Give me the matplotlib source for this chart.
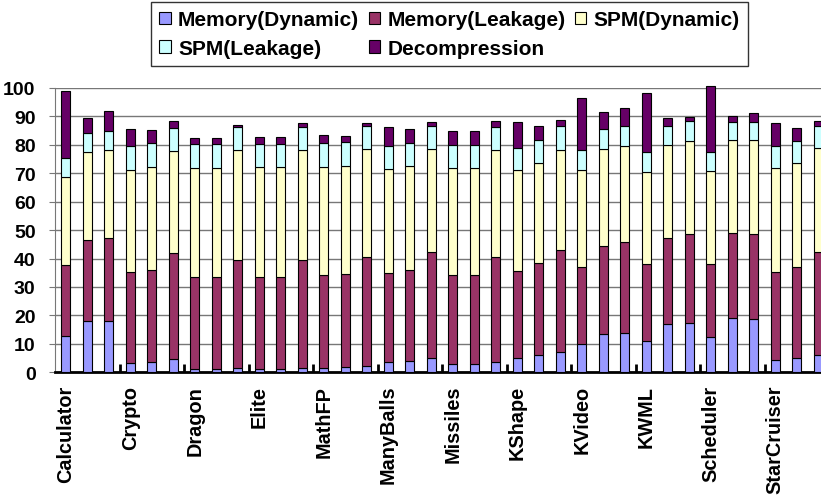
import numpy as np
import matplotlib.pyplot as plt

plt.rcParams['font.family'] = ['Liberation Sans', 'DejaVu Sans']
plt.rcParams['font.weight'] = 'bold'

# three configurations per benchmark, energy breakdown in percent
benchmarks = ['Calculator', 'Crypto', 'Dragon', 'Elite', 'MathFP', 'ManyBalls',
              'Missiles', 'KShape', 'KVideo', 'KWML', 'Scheduler', 'StarCruiser']

mem_dynamic = [12.9, 17.9, 17.9, 3.4, 3.6, 4.6, 1.2, 1.2, 1.6, 1.3, 1.3, 1.5,
               1.5, 1.8, 2.3, 3.5, 3.9, 5.2, 2.9, 2.9, 3.7, 5.0, 6.0, 7.1,
               9.8, 13.4, 13.7, 11.1, 16.9, 17.2, 12.5, 19.2, 18.9, 4.3, 5.2, 6.2]
mem_leakage = [24.8, 28.5, 29.3, 31.7, 32.5, 37.2, 32.2, 32.2, 37.7, 32.2, 32.2, 38.0,
               32.6, 32.8, 38.1, 31.5, 32.1, 37.0, 31.2, 31.2, 36.7, 30.6, 32.4, 35.9,
               27.3, 31.0, 32.0, 27.0, 30.3, 31.5, 25.5, 29.6, 29.8, 30.8, 31.7, 36.1]
spm_dynamic = [31.1, 31.2, 31.1, 36.1, 36.2, 36.0, 38.5, 38.5, 38.7, 38.6, 38.6, 38.5,
               38.1, 38.0, 38.0, 36.5, 36.4, 36.3, 37.7, 37.7, 37.7, 35.4, 35.1, 35.3,
               34.0, 34.0, 34.0, 32.4, 32.6, 32.6, 32.8, 32.7, 32.8, 36.6, 36.6, 36.6]
spm_leakage = [6.4, 6.4, 6.4, 8.2, 8.2, 8.2, 8.4, 8.4, 8.2, 8.3, 8.3, 8.2,
               8.3, 8.4, 8.3, 8.2, 8.1, 8.2, 8.0, 8.0, 8.0, 7.9, 8.0, 8.1,
               6.9, 7.0, 6.9, 7.1, 6.9, 6.9, 6.5, 6.6, 6.5, 8.0, 7.9, 7.8]
decompression = [23.5, 5.3, 7.0, 6.1, 4.7, 2.3, 2.0, 2.0, 0.9, 2.2, 2.2, 1.4,
                 2.9, 2.2, 0.9, 6.4, 5.0, 1.4, 5.0, 5.0, 2.1, 9.1, 5.2, 2.3,
                 18.3, 6.0, 6.2, 20.7, 2.6, 1.7, 23.2, 2.1, 3.0, 7.8, 4.6, 1.8]

series = [
    ('Memory(Dynamic)', mem_dynamic, '#9999FF'),
    ('Memory(Leakage)', mem_leakage, '#993366'),
    ('SPM(Dynamic)', spm_dynamic, '#FFFFCC'),
    ('SPM(Leakage)', spm_leakage, '#CCFFFF'),
    ('Decompression', decompression, '#660066'),
]

x = np.arange(len(mem_dynamic))

fig = plt.figure(figsize=(8.21, 5.02), dpi=100)
ax = fig.add_axes([55 / 821, 128.7 / 502, 774 / 821, 284.5 / 502])

bottom = np.zeros(len(x))
handles = {}
for name, vals, color in series:
    vals = np.array(vals)
    bars = ax.bar(x, vals, 0.4, bottom=bottom, color=color, edgecolor='black',
                  linewidth=0.8, label=name, clip_on=False, zorder=3)
    handles[name] = bars
    bottom += vals

ax.set_xlim(-0.5, len(x) - 0.5)
ax.set_ylim(0, 100)
ax.set_yticks(np.arange(0, 101, 10))
ax.yaxis.grid(True, color='#777777', linewidth=1)
ax.set_axisbelow(True)

ax.set_xticks(np.arange(0, len(x), 3), benchmarks, rotation=90, va='top')
ax.set_xticks(np.arange(2.5, len(x), 3), minor=True)
ax.tick_params(axis='x', which='major', length=0, pad=9, labelsize=14.3)
ax.tick_params(axis='x', which='minor', direction='in', length=6, width=2)
ax.tick_params(axis='y', direction='out', length=4, color='#777777',
               pad=10, labelsize=14)

ax.spines['top'].set_visible(False)
ax.spines['right'].set_visible(False)
ax.spines['left'].set_color('#777777')
ax.spines['bottom'].set_linewidth(2)

order = ['Memory(Dynamic)', 'SPM(Leakage)', 'Memory(Leakage)', 'Decompression', 'SPM(Dynamic)']
leg = fig.legend([handles[n] for n in order], order, loc='upper left',
                 bbox_to_anchor=(151 / 821, 1 - 3 / 502), ncol=3, fontsize=15,
                 frameon=True, fancybox=False, edgecolor='black', borderaxespad=0,
                 handlelength=0.55, handleheight=0.55, handletextpad=0.35,
                 columnspacing=0.45, labelspacing=0.45, borderpad=0.4)
leg.get_frame().set_linewidth(1)

fig.savefig('out.png', dpi=100)
